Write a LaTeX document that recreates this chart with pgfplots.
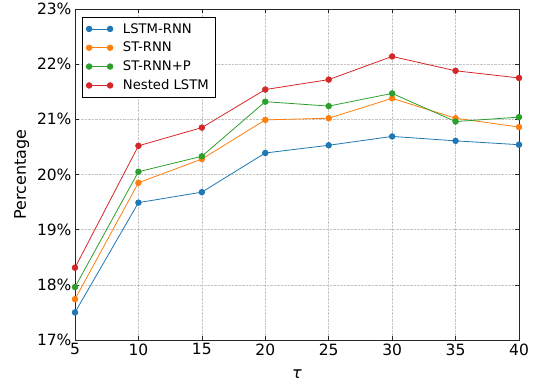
\documentclass[border=0pt]{standalone}
\usepackage{fontspec}
\setmainfont{DejaVu Sans}
\usepackage{pgfplots}
\pgfplotsset{compat=1.18}
\definecolor{c1}{HTML}{1F77B4}
\definecolor{c2}{HTML}{FF7F0E}
\definecolor{c3}{HTML}{2CA02C}
\definecolor{c4}{HTML}{D62728}
\begin{document}
\begin{tikzpicture}[x=1pt,y=1pt]
\begin{axis}[
  scale only axis,
  width=444pt, height=331pt,
  xmin=5, xmax=40, ymin=17, ymax=23,
  xtick={5,10,...,40},
  ytick={17,18,...,23},
  yticklabel={\pgfmathprintnumber{\tick}\%},
  /pgf/number format/assume math mode=true,
  tick label style={font=\fontsize{15.5}{18}\selectfont},
  xlabel={\textit{τ}},
  ylabel={Percentage},
  label style={font=\fontsize{16}{19}\selectfont},
  xlabel style={yshift=-8pt},
  ylabel style={yshift=1pt},
  tick align=inside,
  major tick length=4pt,
  xtick pos=both, ytick pos=both,
  grid=major,
  grid style={densely dotted, gray!45, line width=0.6pt},
  axis line style={line width=0.9pt, black!85},
  every tick/.style={black!85, line width=0.6pt},
  legend style={at={(rel axis cs:0,1)}, anchor=north west, xshift=7pt, yshift=-8pt,
    font=\fontsize{13.2}{15}\selectfont, draw=black, line width=0.6pt,
    row sep=3.5pt, column sep=8pt, inner sep=4pt},
  legend cell align=left,
  legend image code/.code={\draw[#1] plot coordinates {(0pt,0pt) (21pt,0pt)};},
  every axis plot/.append style={line width=0.8pt, mark=*, mark size=2.8pt,
    mark options={draw=black!70, line width=0.4pt}},
  clip=false,
]
\addplot[c1, mark options={fill=c1}] coordinates {(5,17.50) (10,19.49) (15,19.68) (20,20.39) (25,20.53) (30,20.69) (35,20.61) (40,20.54)};
\addlegendentry{LSTM-RNN}
\addplot[c2, mark options={fill=c2}] coordinates {(5,17.74) (10,19.85) (15,20.28) (20,20.99) (25,21.02) (30,21.38) (35,21.02) (40,20.86)};
\addlegendentry{ST-RNN}
\addplot[c3, mark options={fill=c3}] coordinates {(5,17.96) (10,20.05) (15,20.33) (20,21.32) (25,21.24) (30,21.47) (35,20.96) (40,21.04)};
\addlegendentry{ST-RNN+P}
\addplot[c4, mark options={fill=c4}] coordinates {(5,18.31) (10,20.52) (15,20.85) (20,21.54) (25,21.72) (30,22.14) (35,21.88) (40,21.75)};
\addlegendentry{Nested LSTM}
\coordinate (A) at (rel axis cs:0,0);
\coordinate (B) at (rel axis cs:1,1);
\end{axis}
\pgfresetboundingbox
\path[use as bounding box] ([xshift=-75pt,yshift=-48pt]A) rectangle ([xshift=22pt,yshift=9pt]B);
\end{tikzpicture}
\end{document}
